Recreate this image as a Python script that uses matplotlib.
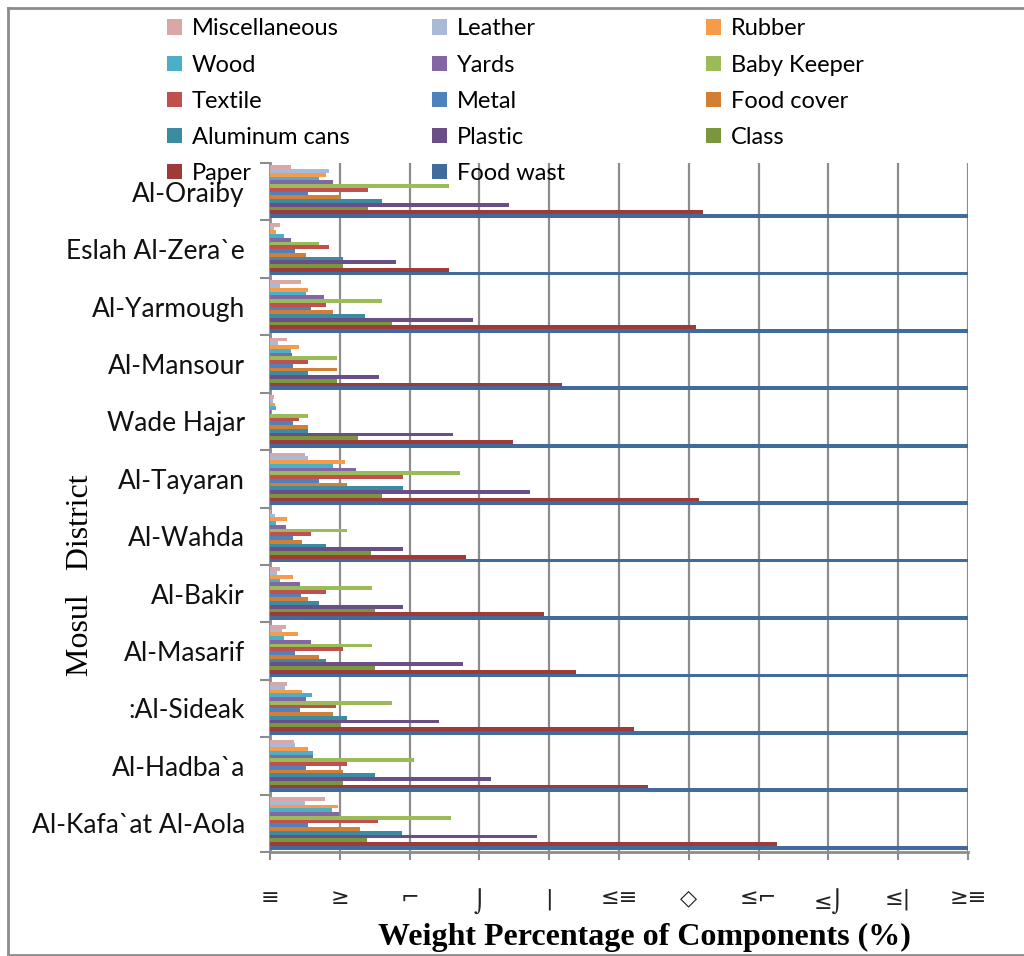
import matplotlib
matplotlib.use("Agg")
import matplotlib.pyplot as plt
from matplotlib.patches import Patch
import numpy as np

districts = ["Al-Oraiby", "Eslah Al-Zera`e", "Al-Yarmough", "Al-Mansour", "Wade Hajar",
             "Al-Tayaran", "Al-Wahda", "Al-Bakir", "Al-Masarif", ":Al-Sideak",
             "Al-Hadba`a", "Al-Kafa`at Al-Aola"]

series_names = ["Miscellaneous", "Leather", "Rubber", "Wood", "Yards", "Baby Keeper",
                "Textile", "Metal", "Food cover", "Aluminum cans", "Plastic", "Class",
                "Paper", "Food wast"]

miscellaneous = [1.5, 0.7, 2.25, 1.2, 0.3, 2.5, 0.07, 0.7, 1.15, 1.2, 1.75, 3.95]
leather       = [4.2, 0.3, 0.7, 0.6, 0.22, 2.75, 0.35, 0.5, 0.85, 1.1, 1.8, 2.5]
rubber        = [4.0, 0.45, 2.75, 2.1, 0.35, 5.35, 1.2, 1.65, 2.0, 2.3, 2.7, 4.9]
wood          = [3.5, 1.0, 2.6, 1.5, 0.45, 4.5, 0.45, 0.7, 1.0, 3.0, 3.05, 4.45]
yards         = [4.5, 1.5, 3.85, 1.6, 0.05, 6.15, 1.15, 2.15, 2.95, 2.55, 3.05, 4.95]
baby_keeper   = [12.8, 3.5, 8.05, 4.8, 2.7, 13.6, 5.5, 7.3, 7.3, 8.75, 10.3, 13.0]
textile       = [7.0, 4.2, 4.0, 2.75, 2.05, 9.55, 2.95, 4.0, 5.2, 4.7, 5.5, 7.75]
metal         = [2.75, 1.8, 2.95, 1.65, 1.65, 3.5, 1.65, 2.25, 1.8, 2.15, 2.55, 2.7]
food_cover    = [5.0, 2.55, 4.5, 4.8, 2.75, 5.5, 2.3, 2.75, 3.5, 4.5, 5.2, 6.45]
aluminum_cans = [8.05, 5.2, 6.8, 2.75, 2.75, 9.55, 4.0, 3.5, 4.0, 5.5, 7.55, 9.45]
plastic       = [17.1, 9.05, 14.55, 7.8, 13.1, 18.6, 9.55, 9.55, 13.85, 12.1, 15.85, 19.15]
class_        = [7.0, 5.2, 8.75, 4.8, 6.3, 8.05, 7.25, 7.55, 7.55, 5.0, 5.2, 6.95]
paper         = [31.0, 12.8, 30.5, 20.9, 17.4, 30.7, 14.05, 19.6, 21.9, 26.1, 27.1, 36.3]
food_wast     = [53.5, 58.2, 52.4, 60.1, 61.3, 51.8, 59.6, 57.4, 55.9, 54.2, 54.8, 51.2]

series_values = [miscellaneous, leather, rubber, wood, yards, baby_keeper, textile, metal,
                 food_cover, aluminum_cans, plastic, class_, paper, food_wast]

colors = ["#D9A7A6", "#A9BAD7", "#F79A4A", "#4BAFC8", "#8366A4", "#9BBB59",
          "#C0504D", "#4F81BD", "#D27F35", "#3B8CA3", "#6A4E86", "#7A973E",
          "#9E3B39", "#416B9D"]

x_ticks = [0, 5, 10, 15, 20, 25, 30, 35, 40, 45, 50]
x_tick_labels = ["≡", "≥", "⌐", "⌡", "|", "≤≡", "◇", "≤⌐", "≤⌡", "≤|", "≥≡"]

fig = plt.figure(figsize=(10.24, 9.56), dpi=100)
ax = fig.add_axes([270 / 1024, 1 - 852 / 956, 698 / 1024, 689 / 956])

n_series = len(series_names)
group_frac = 0.915
h = group_frac / n_series
yc = np.arange(len(districts))
for j, (name, vals, c) in enumerate(zip(series_names, series_values, colors)):
    offs = (j - (n_series - 1) / 2) * h
    ax.barh(yc + offs, vals, height=h, color=c, label=name, zorder=3, linewidth=0)

ax.set_xlim(0, 50)
ax.set_ylim(len(districts) - 0.5, -0.5)

grid_col = "#8C8C8C"
ax.set_xticks(x_ticks)
ax.set_xticklabels(x_tick_labels, fontsize=16, family=["DejaVu Sans"], color="#222222")
ax.tick_params(axis="x", length=6, color=grid_col, width=1.5, pad=20)
ax.xaxis.grid(True, color=grid_col, linewidth=1.6, zorder=0)

ax.set_yticks(yc)
ax.set_yticklabels(districts, fontsize=19, family=["Lato", "DejaVu Sans"], color="#111111")
ax.tick_params(axis="y", which="major", length=0, pad=18)
ax.set_yticks(np.arange(-0.5, len(districts) + 0.5, 1.0), minor=True)
ax.tick_params(axis="y", which="minor", length=7, color=grid_col, width=1.5)

for s in ["top", "right"]:
    ax.spines[s].set_visible(False)
for s in ["left", "bottom"]:
    ax.spines[s].set_color(grid_col)
    ax.spines[s].set_linewidth(2)
ax.set_axisbelow(True)

fig.text(644 / 1024, 1 - 937 / 956, "Weight Percentage of Components (%)",
         ha="center", va="center", fontsize=23, fontweight="bold",
         family=["Liberation Serif"])
fig.text(80 / 1024, 1 - 575 / 956, "Mosul   District", ha="center", va="center",
         rotation=90, fontsize=23, family=["Liberation Serif"])

# legend in three columns (row-wise order as in the reference)
handles = [Patch(facecolor=c, edgecolor="none") for c in colors]
col_x = [158 / 1024, 423 / 1024, 697 / 1024]
for k in range(3):
    idx = list(range(k, n_series, 3))
    fig.legend([handles[i] for i in idx], [series_names[i] for i in idx],
               loc="upper left", bbox_to_anchor=(col_x[k], 1 - 9 / 956),
               frameon=False, handlelength=0.62, handleheight=0.62,
               handletextpad=0.4, labelspacing=0.64, borderaxespad=0,
               prop={"family": ["Lato", "DejaVu Sans"], "size": 17})

# figure border
fig.add_artist(plt.Line2D([8 / 1024, 8 / 1024], [1 - 955 / 956, 1 - 8 / 956],
                          transform=fig.transFigure, color="#8C8C8C", linewidth=2))
fig.add_artist(plt.Line2D([8 / 1024, 1.0], [1 - 8 / 956, 1 - 8 / 956],
                          transform=fig.transFigure, color="#8C8C8C", linewidth=2))
fig.add_artist(plt.Line2D([8 / 1024, 1.0], [1 - 955 / 956, 1 - 955 / 956],
                          transform=fig.transFigure, color="#8C8C8C", linewidth=2))

fig.savefig("out.png", dpi=100)
